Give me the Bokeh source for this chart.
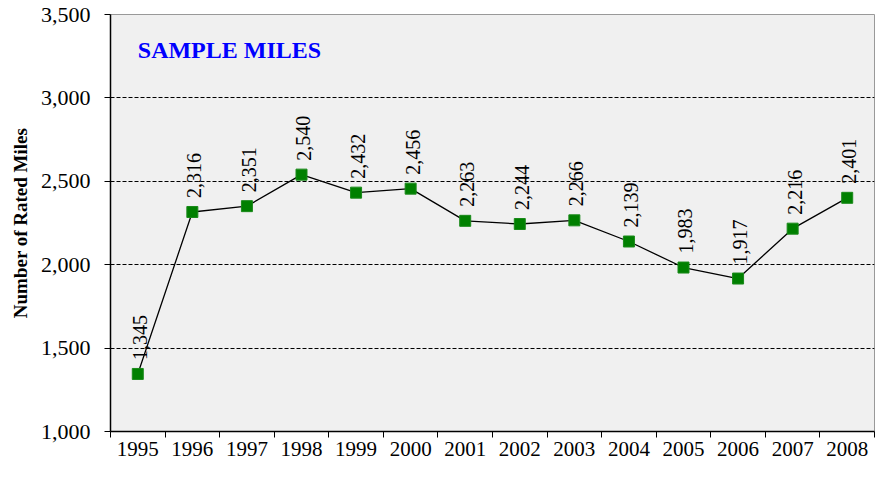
from bokeh.plotting import figure
from bokeh.models import ColumnDataSource, FixedTicker, NumeralTickFormatter, Label, Range1d
from bokeh.core.properties import value
from bokeh.embed import file_html
from bokeh.resources import INLINE

years = ["1995", "1996", "1997", "1998", "1999", "2000", "2001",
         "2002", "2003", "2004", "2005", "2006", "2007", "2008"]
miles = [1345, 2316, 2351, 2540, 2432, 2456, 2263,
         2244, 2266, 2139, 1983, 1917, 2216, 2401]
y_ticks = [1000, 1500, 2000, 2500, 3000, 3500]
title_text = "SAMPLE MILES"
y_label = "Number of Rated Miles"

xs = list(range(1, len(years) + 1))
labels = [f"{v:,}" for v in miles]
src = ColumnDataSource(dict(x=xs, y=miles, lab=labels))

FONT = "Liberation Serif"

p = figure(width=877, height=466, output_backend="svg", toolbar_location=None,
           x_range=Range1d(0.5, len(years) + 0.5), y_range=Range1d(1000, 3500),
           min_border_left=110, min_border_right=3, min_border_top=14, min_border_bottom=35)

p.background_fill_color = "#f0f0f0"
p.border_fill_color = "white"
p.outline_line_color = "#999999"
p.outline_line_width = 1

# x axis
p.xaxis.ticker = FixedTicker(ticks=xs, minor_ticks=[x - 0.5 for x in xs] + [len(xs) + 0.5])
p.xaxis.major_label_overrides = {x: y for x, y in zip(xs, years)}
p.xaxis.major_tick_line_color = None
p.xaxis.minor_tick_line_color = "black"
p.xaxis.minor_tick_out = 6
p.xaxis.minor_tick_in = 0
p.xaxis.axis_line_color = "black"
p.xaxis.axis_line_width = 1.5
p.xaxis.major_label_text_font = FONT
p.xaxis.major_label_text_font_size = "21px"
p.xaxis.major_label_text_color = "black"
p.xaxis.major_label_standoff = 4

# y axis
p.yaxis.ticker = FixedTicker(ticks=y_ticks)
p.yaxis.formatter = NumeralTickFormatter(format="0,0")
p.yaxis.minor_tick_line_color = None
p.yaxis.major_tick_out = 6
p.yaxis.major_tick_in = 0
p.yaxis.major_tick_line_color = "black"
p.yaxis.axis_line_color = "black"
p.yaxis.axis_line_width = 1.5
p.yaxis.major_label_text_font = FONT
p.yaxis.major_label_text_font_size = "22px"
p.yaxis.major_label_text_color = "black"
p.yaxis.major_label_standoff = 14
p.yaxis.axis_label = y_label
p.yaxis.axis_label_text_font = FONT
p.yaxis.axis_label_text_font_style = "bold"
p.yaxis.axis_label_text_font_size = "19px"
p.yaxis.axis_label_text_color = "black"
p.yaxis.axis_label_standoff = 7

# grids
p.xgrid.grid_line_color = None
p.ygrid.ticker = FixedTicker(ticks=y_ticks[1:-1])
p.ygrid.grid_line_color = "black"
p.ygrid.grid_line_dash = "4 2"
p.ygrid.grid_line_width = 1

p.line("x", "y", source=src, line_color="black", line_width=1.3)
p.scatter("x", "y", source=src, marker="square", size=11,
          fill_color="#008000", line_color="#1a8a1a")

p.text("x", "y", text="lab", source=src, angle=1.5708,
       text_align="left", text_baseline="middle",
       x_offset=2, y_offset=-14,
       text_font=value(FONT), text_font_size="20px", text_color="black")

p.add_layout(Label(x=1.0, y=3290, text=title_text, text_align="left",
                   text_baseline="middle", text_font=FONT, text_font_style="bold",
                   text_font_size="24px", text_color="#0000ff"))

open("out.html", "w").write(file_html(p, INLINE))
